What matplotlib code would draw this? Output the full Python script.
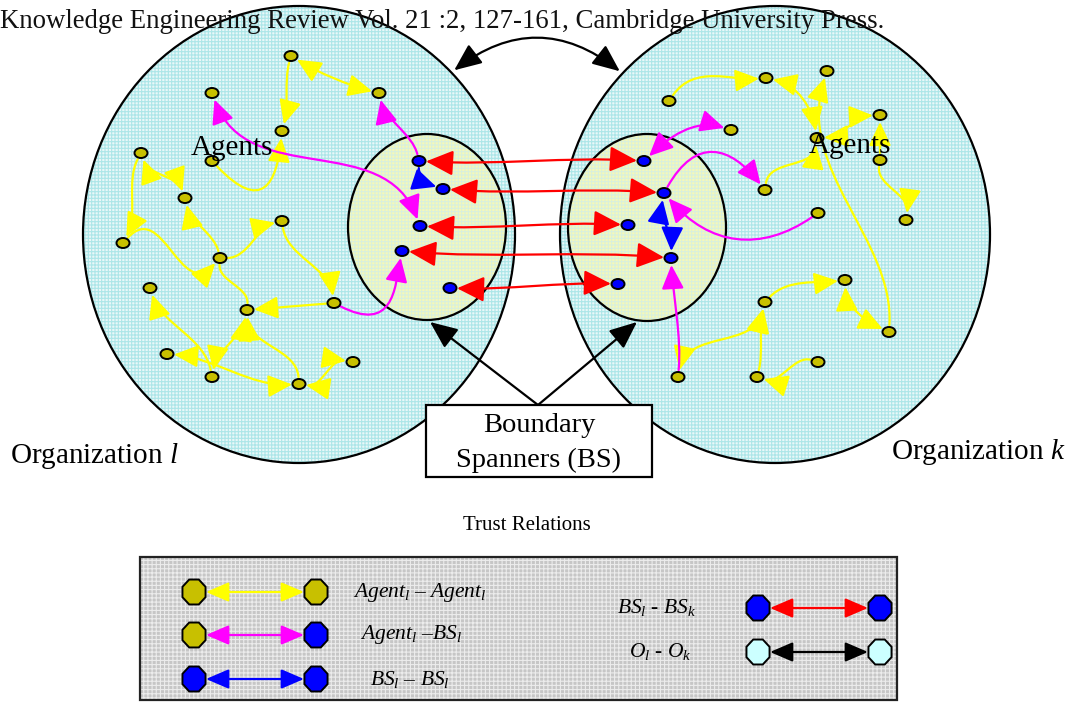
import numpy as np
import matplotlib
matplotlib.use('Agg')
import matplotlib.pyplot as plt
from matplotlib.patches import Ellipse, Rectangle, FancyArrowPatch, Polygon
from matplotlib.path import Path

plt.rcParams['font.family'] = ['Liberation Serif', 'DejaVu Serif']
plt.rcParams['mathtext.fontset'] = 'custom'
plt.rcParams['mathtext.rm'] = 'Liberation Serif'
plt.rcParams['mathtext.it'] = 'Liberation Serif:italic'
plt.rcParams['hatch.linewidth'] = 0.8

# ---- data: agent / boundary spanner nodes (picture coords) ----
agents_l = [(291, 56), (379, 93), (212, 93), (282, 131), (212, 161), (141, 153),
            (185, 198), (123, 243), (282, 221), (220, 258), (150, 288), (247, 310),
            (334, 303), (167, 354), (212, 377), (299, 384), (353, 362)]
bs_l = [(419, 161), (443, 189), (420, 226), (402, 251), (450, 288)]
agents_k = [(669, 101), (766, 78), (827, 71), (731, 130), (880, 115), (817, 138),
            (880, 160), (765, 190), (818, 213), (906, 220), (845, 280), (765, 302),
            (889, 332), (678, 377), (757, 377), (818, 362)]
bs_k = [(644, 161), (664, 193), (628, 225), (671, 258), (618, 284)]

# edges: (from, to, arrowstyle, bend1, bend2)
yellow_l = [(0, 1, '<|-|>', 0.05, 0.05), (0, 3, '-|>', 0.05, -0.05), (4, 3, '-|>', 0.9, 0.6),
            (5, 6, '<|-|>', 0.15, -0.15), (5, 7, '-|>', 0.1, -0.1), (7, 9, '-|>', -0.5, 0.5),
            (9, 6, '-|>', 0.1, -0.1), (9, 8, '-|>', 0.2, -0.1), (8, 12, '-|>', 0.15, -0.15),
            (12, 11, '-|>', 0.0, 0.0), (9, 11, '-', 0.2, -0.2), (14, 10, '-|>', 0.15, -0.1),
            (14, 11, '<|-|>', -0.1, 0.1), (13, 15, '<|-|>', -0.05, 0.1), (15, 11, '-|>', 0.2, -0.2),
            (15, 16, '<|-|>', 0.2, -0.2)]
magenta_l = [(12, 3, '-|>', 0.7, 0.3), (2, 2, '<|-|>', 0.25, -0.25)]
magenta_l_out = [(0, 1, '-|>', 0.1, -0.1)]  # bs -> agent
yellow_k = [(0, 1, '-|>', -0.3, -0.05), (1, 5, '<|-|>', -0.25, -0.2), (5, 4, '<|-|>', 0.1, -0.1),
            (6, 4, '-|>', 0.0, 0.0), (6, 9, '-|>', 0.2, -0.2), (12, 2, '-|>', 0.1, -0.2),
            (7, 5, '-|>', -0.25, 0.25), (11, 10, '-|>', -0.2, -0.05), (10, 12, '<|-|>', 0.25, 0.15),
            (11, 13, '<|-|>', -0.25, 0.25), (14, 11, '-|>', 0.05, -0.05), (15, 14, '-|>', 0.2, -0.2)]
magenta_k = [(3, 0, '<|-|>', 0.25, 0.15), (8, 1, '-|>', -0.3, -0.3), (13, 3, '-|>', 0.05, 0.0)]
magenta_k_out = [(1, 7, '-|>', -0.55, -0.45)]  # bs -> agent

legend_left = ['$Agent_l$ – $Agent_l$', '$Agent_l$ –$BS_l$', '$BS_l$ – $BS_l$']
legend_right = ['$BS_l$ - $BS_k$', '$O_l$ - $O_k$']

YEL = '#ffff00'
MAG = '#ff00ff'
BLU = '#0000ff'
RED = '#ff0000'
AGC = '#c8c000'

fig = plt.figure(figsize=(10.71, 7.02), dpi=100)
ax = fig.add_axes([0, 0, 1, 1])
ax.set_xlim(0, 1071)
ax.set_ylim(702, 0)
ax.axis('off')


def curve(p, q, color, style, b1, b2, r=7, lw=1.6, ms=10.5, z=3):
    p = np.array(p, float)
    q = np.array(q, float)
    d = q - p
    n = np.array([-d[1], d[0]])
    c1 = p + d / 3 + b1 * n
    c2 = p + 2 * d / 3 + b2 * n
    u0 = (c1 - p) / (np.linalg.norm(c1 - p) + 1e-9)
    u1 = (c2 - q) / (np.linalg.norm(c2 - q) + 1e-9)
    path = Path([p + r * u0, c1, c2, q + r * u1],
                [Path.MOVETO, Path.CURVE4, Path.CURVE4, Path.CURVE4])
    st = '-' if style == '-' else style + ',head_length=1.4,head_width=0.65'
    ax.add_patch(FancyArrowPatch(path=path, arrowstyle=st, color=color, lw=lw,
                                 mutation_scale=ms, zorder=z))


# organisations (textured fill)
for cx, cy, w, h in [(299, 234.5, 432, 457), (775, 234.5, 430, 457)]:
    ax.add_patch(Ellipse((cx, cy), w, h, facecolor='#e8f8f8', edgecolor='none', zorder=1))
    ax.add_patch(Ellipse((cx, cy), w, h, facecolor='none', edgecolor='#ace6e8', lw=0,
                         hatch='+++++', zorder=1.1))
    ax.add_patch(Ellipse((cx, cy), w, h, facecolor='none', edgecolor='black', lw=1.6, zorder=1.2))
for cx, cy, w, h in [(427, 227, 158, 186), (647, 227.5, 158, 187)]:
    ax.add_patch(Ellipse((cx, cy), w, h, facecolor='#f5f8b8', edgecolor='none', zorder=1.5))
    ax.add_patch(Ellipse((cx, cy), w, h, facecolor='none', edgecolor='#d8f0dc', lw=0,
                         hatch='+++++', zorder=1.6))
    ax.add_patch(Ellipse((cx, cy), w, h, facecolor='none', edgecolor='black', lw=1.6, zorder=1.7))

# trust edges
for i, j, st, b1, b2 in yellow_l:
    curve(agents_l[i], agents_l[j], YEL, st, b1, b2)
for i, j, st, b1, b2 in magenta_l:
    curve(agents_l[i], bs_l[j], MAG, st, b1, b2)
for i, j, st, b1, b2 in magenta_l_out:
    curve(bs_l[i], agents_l[j], MAG, st, b1, b2)
curve(bs_l[0], bs_l[1], BLU, '-|>', 0.3, 0.2)
for i, j, st, b1, b2 in yellow_k:
    curve(agents_k[i], agents_k[j], YEL, st, b1, b2)
for i, j, st, b1, b2 in magenta_k:
    curve(agents_k[i], bs_k[j], MAG, st, b1, b2)
for i, j, st, b1, b2 in magenta_k_out:
    curve(bs_k[i], agents_k[j], MAG, st, b1, b2)
curve(bs_k[1], bs_k[3], BLU, '<|-|>', 0.1, -0.05)
for p, q in zip(bs_l, bs_k):
    curve(p, q, RED, '<|-|>', 0.02, -0.02, ms=12)

# nodes
for x, y in agents_l + agents_k:
    ax.add_patch(Ellipse((x, y), 13, 10, facecolor=AGC, edgecolor='black', lw=1.4, zorder=5))
for x, y in bs_l + bs_k:
    ax.add_patch(Ellipse((x, y), 13, 10, facecolor=BLU, edgecolor='black', lw=1.4, zorder=5))

# organisation link and boundary spanner pointers
ax.add_patch(FancyArrowPatch((452, 72), (622, 73), connectionstyle='arc3,rad=-0.4',
                             arrowstyle='<|-|>,head_length=1.4,head_width=0.6', mutation_scale=12,
                             color='black', lw=1.6, zorder=6))
for tx, ty in [(430, 322), (637, 322)]:
    ax.add_patch(FancyArrowPatch((538, 405), (tx, ty), arrowstyle='-|>,head_length=1.4,head_width=0.6',
                                 mutation_scale=12, color='black', lw=1.6, shrinkA=0, shrinkB=0, zorder=6))

ax.add_patch(Rectangle((426, 405), 226, 72, facecolor='white', edgecolor='black', lw=1.6, zorder=7))
ax.text(539, 426, 'Boundary', ha='center', va='center', fontsize=20.5, zorder=8)
ax.text(539, 460, 'Spanners (BS)', ha='center', va='center', fontsize=20.5, zorder=8)

ax.text(0, 22, 'Knowledge Engineering Review Vol. 21 :2, 127-161, Cambridge University Press.',
        ha='left', va='center', fontsize=19.3, zorder=9, color='#111111')
ax.text(232, 148, 'Agents', ha='center', va='center', fontsize=21, zorder=9)
ax.text(850, 146, 'Agents', ha='center', va='center', fontsize=21, zorder=9)
ax.text(10, 456, 'Organization $l$', ha='left', va='center', fontsize=21, zorder=9)
ax.text(1066, 452, 'Organization $k$', ha='right', va='center', fontsize=21, zorder=9)
ax.text(527, 525, 'Trust Relations', ha='center', va='center', fontsize=15, zorder=9)

# legend box with grid texture
ax.add_patch(Rectangle((140, 557), 757, 143, facecolor='#c6c6c6', edgecolor='none', zorder=1))
ax.add_patch(Rectangle((140, 557), 757, 143, facecolor='none', edgecolor='#ececec', lw=0,
                       hatch='++++', zorder=1.2))
ax.add_patch(Rectangle((140, 557), 757, 143, facecolor='none', edgecolor='#222222', lw=1.6, zorder=1.4))


def octagon(x, y, color):
    t = np.pi / 8 + np.arange(8) * np.pi / 4
    pts = np.c_[x + 12.5 * np.cos(t), y + 13.5 * np.sin(t)]
    ax.add_patch(Polygon(pts, closed=True, facecolor=color, edgecolor='black', lw=1.4, zorder=5))


rows_l = [(592, AGC, AGC, YEL, 420), (635, AGC, BLU, MAG, 411), (679, BLU, BLU, BLU, 410)]
for (y, c1, c2, lc, tx), lab in zip(rows_l, legend_left):
    octagon(194, y, c1)
    octagon(316, y, c2)
    ax.add_patch(FancyArrowPatch((206, y), (304, y), arrowstyle='<|-|>,head_length=1.4,head_width=0.6',
                                 mutation_scale=10, color=lc, lw=1.6, shrinkA=0, shrinkB=0, zorder=4))
    ax.text(tx, y, lab, ha='center', va='center', fontsize=15.5, zorder=6)

rows_r = [(608, BLU, RED, 657), (652, '#ccffff', 'black', 660)]
for (y, c, lc, tx), lab in zip(rows_r, legend_right):
    octagon(758, y, c)
    octagon(880, y, c)
    ax.add_patch(FancyArrowPatch((770, y), (868, y), arrowstyle='<|-|>,head_length=1.4,head_width=0.6',
                                 mutation_scale=10, color=lc, lw=1.6, shrinkA=0, shrinkB=0, zorder=4))
    ax.text(tx, y, lab, ha='center', va='center', fontsize=15.5, zorder=6)

fig.savefig('out.png', dpi=100)
